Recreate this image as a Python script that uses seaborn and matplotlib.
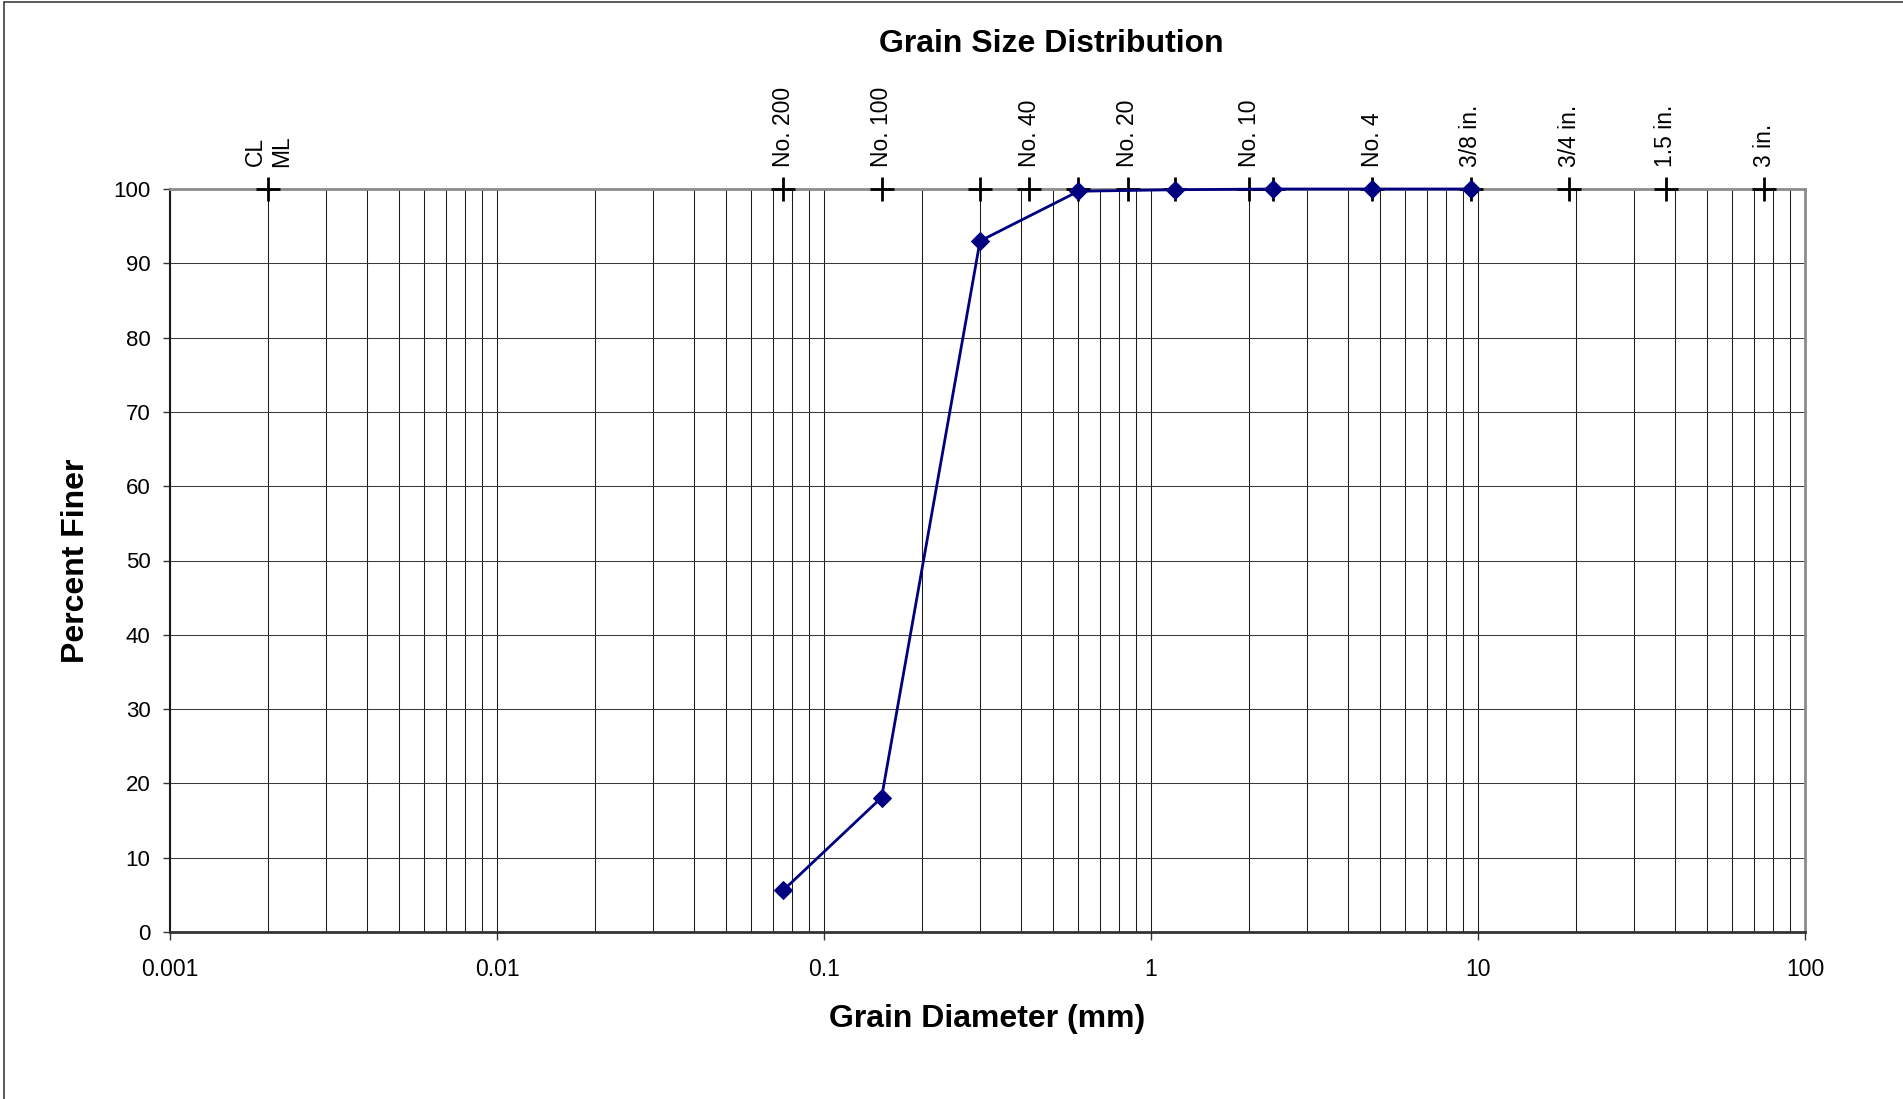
import matplotlib
matplotlib.use("Agg")
import matplotlib.pyplot as plt
from matplotlib.lines import Line2D
from matplotlib.ticker import FixedLocator, FixedFormatter, LogLocator, NullFormatter
import seaborn as sns
import pandas as pd

# Sieve analysis results
grain_diameter_mm = [0.075, 0.15, 0.3, 0.6, 1.18, 2.36, 4.75, 9.5]
percent_finer = [5.6, 18.1, 93.0, 99.7, 99.9, 100.0, 100.0, 100.0]

# Reference sieve openings marked along the 100 % line
ref_sizes_mm = [0.002, 0.075, 0.15, 0.3, 0.425, 0.6, 0.85, 1.18, 2.0, 2.36,
                4.75, 9.5, 19.0, 37.5, 75.0]
ref_labels = ["CL\nML", "No. 200", "No. 100", "", "No. 40", "", "No. 20", "",
              "No. 10", "", "No. 4", "3/8 in.", "3/4 in.", "1.5 in.", "3 in."]
ref_level = [100.0] * len(ref_sizes_mm)

x_tick_values = [0.001, 0.01, 0.1, 1, 10, 100]
x_tick_labels = ["0.001", "0.01", "0.1", "1", "10", "100"]
y_tick_values = list(range(0, 101, 10))

sns.set_theme(style="white")
plt.rcParams["font.family"] = ["Liberation Sans", "DejaVu Sans"]
plt.rcParams["text.color"] = "black"
plt.rcParams["axes.labelcolor"] = "black"
plt.rcParams["xtick.color"] = "black"
plt.rcParams["ytick.color"] = "black"

W, H = 1903, 1099
fig = plt.figure(figsize=(W / 100, H / 100), dpi=100)
fig.patch.set_facecolor("white")
ax = fig.add_axes([170 / W, 1 - 932 / H, (1805 - 170) / W, (932 - 189) / H])

ax.set_xscale("log")
ax.set_xlim(0.001, 100)
ax.set_ylim(0, 100)

# grid: vertical lines at every log sub-division, horizontal every 10 %
ax.xaxis.set_major_locator(FixedLocator(x_tick_values))
ax.xaxis.set_major_formatter(FixedFormatter(x_tick_labels))
ax.xaxis.set_minor_locator(LogLocator(base=10, subs=range(2, 10), numticks=20))
ax.xaxis.set_minor_formatter(NullFormatter())
ax.set_yticks(y_tick_values)
ax.set_yticklabels([str(v) for v in y_tick_values])
ax.grid(True, which="both", axis="x", color="#1a1a1a", lw=0.75)
ax.grid(True, which="major", axis="y", color="#3a3a3a", lw=0.75)
ax.set_axisbelow(True)

ax.tick_params(axis="x", which="major", direction="out", length=6, width=1,
               color="#333333", pad=13, labelsize=16.5, labelcolor="black",
               bottom=True)
ax.tick_params(axis="x", which="minor", length=0)
ax.tick_params(axis="y", direction="out", length=5, width=1, color="#333333",
               pad=9, labelsize=16, labelcolor="black", left=True)

for side in ("top", "right"):
    ax.spines[side].set_color("#8c8c8c")
    ax.spines[side].set_linewidth(2.0)
ax.spines["left"].set_color("#1a1a1a")
ax.spines["left"].set_linewidth(1.5)
ax.spines["bottom"].set_color("#333333")
ax.spines["bottom"].set_linewidth(2.0)

# sieve reference crosses
ref_df = pd.DataFrame({"size": ref_sizes_mm, "level": ref_level})
sns.scatterplot(data=ref_df, x="size", y="level", marker="+", s=280,
                color="black", linewidth=2.0, ax=ax, clip_on=False, zorder=4,
                legend=False)
for size, label in zip(ref_sizes_mm, ref_labels):
    if label:
        ax.annotate(label, xy=(size, 100), xytext=(0, 15.5),
                    textcoords="offset points", rotation=90,
                    ha="center", va="bottom", fontsize=16.5, color="black",
                    annotation_clip=False)

# gradation curve
curve_df = pd.DataFrame({"diameter": grain_diameter_mm, "finer": percent_finer})
sns.lineplot(data=curve_df, x="diameter", y="finer", sort=False,
             color="#000080", lw=2.0, marker="D", markersize=9.5,
             markeredgecolor="#000080", markerfacecolor="#000080",
             ax=ax, clip_on=False, zorder=5, legend=False)

ax.set_xlabel("")
ax.set_ylabel("")

fig.text(1051 / W, 1 - 44 / H, "Grain Size Distribution", ha="center",
         va="center", fontsize=23, fontweight="bold", color="black")
fig.text(987 / W, 1 - 1019 / H, "Grain Diameter (mm)", ha="center",
         va="center", fontsize=23, fontweight="bold", color="black")
fig.text(76 / W, 1 - 561 / H, "Percent Finer", ha="center", va="center",
         rotation=90, fontsize=23, fontweight="bold", color="black")

# chart-area frame (left and top edges)
fig.add_artist(Line2D([4 / W, 4 / W], [0, 1 - 2 / H], color="#404040", lw=1.2,
                      transform=fig.transFigure))
fig.add_artist(Line2D([4 / W, 1], [1 - 2 / H, 1 - 2 / H], color="#404040",
                      lw=1.2, transform=fig.transFigure))

fig.savefig("out.png", dpi=100, facecolor="white")
